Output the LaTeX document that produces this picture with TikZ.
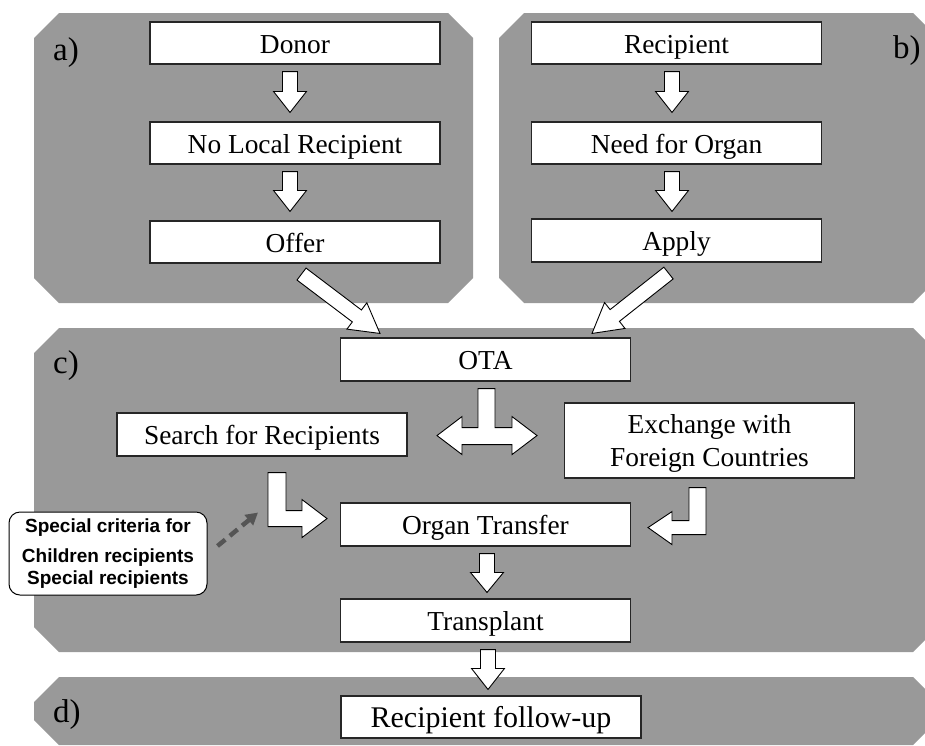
\documentclass[tikz,border=0pt]{standalone}
\usepackage{fontspec}
\setmainfont{Liberation Serif}
\newfontfamily\notesans{Liberation Sans}
\usetikzlibrary{calc,arrows.meta}

\definecolor{panelgrey}{HTML}{999999}
\definecolor{edgegrey}{HTML}{262626}
\definecolor{dashgrey}{HTML}{555555}

\tikzset{
  stage/.style={draw=edgegrey, line width=1.1pt, fill=white,
    minimum width=290pt, minimum height=42pt, inner sep=0pt,
    font=\fontsize{27.4}{33}\selectfont, text height=24pt, text depth=4pt},
  blockar/.style={draw=black, line width=0.9pt, fill=white, line join=miter},
  panel/.style={fill=panelgrey},
  tag/.style={anchor=base west, inner sep=0pt, font=\fontsize{33}{36}\selectfont},
  note/.style={draw=black, line width=1pt, fill=white, rounded corners=11pt,
    minimum width=198pt, minimum height=83pt, inner sep=0pt, align=center,
    font=\notesans\bfseries\fontsize{19}{22}\selectfont},
  hint/.style={draw=dashgrey, line width=4.5pt, dash pattern=on 10pt off 6pt,
    -{Triangle[length=12pt,width=13pt]}}
}

% chamfered panel: left, top, right, bottom
\newcommand\panelshape[4]{%
  \fill[panel] (#1+25,#2) -- (#3-25,#2) -- (#3,#2+25) -- (#3,#4-25)
    -- (#3-25,#4) -- (#1+25,#4) -- (#1,#4-25) -- (#1,#2+25) -- cycle;}

% straight block arrow from #2 to #3, head length #1
\newcommand\blockarrow[3][21]{%
  \coordinate (bahead) at ($(#3)!#1pt!(#2)$);
  \draw[blockar] ($(#2)!7.5pt!90:(#3)$) -- ($(bahead)!7.5pt!90:(#3)$)
    -- ($(bahead)!16.5pt!90:(#3)$) -- (#3) -- ($(bahead)!16.5pt!-90:(#3)$)
    -- ($(bahead)!7.5pt!-90:(#3)$) -- ($(#2)!7.5pt!-90:(#3)$) -- cycle;}

\begin{document}
\begin{tikzpicture}[x=1pt, y=-1pt]
\useasboundingbox (0,0) rectangle (925,745);
\clip (0,0) rectangle (925,745);

% background panels
\panelshape{34}{13}{473}{303}
\panelshape{499}{13}{938}{303}
\panelshape{34}{328}{938}{652}
\panelshape{34}{677}{938}{745}

% panel labels
\node[tag] (la) at (53,60) {a)};
\node[tag] (lb) at (893,58) {b)};
\node[tag] (lc) at (53,373) {c)};
\node[tag] (ld) at (53,722) {d)};

% donor side
\node[stage] (donor) at (295,43) {Donor};
\node[stage] (nolocal) at (295,143) {No Local Recipient};
\node[stage] (offer) at (295,242) {Offer};

% recipient side
\node[stage] (recip) at (676.5,43) {Recipient};
\node[stage] (need) at (676.5,143) {Need for Organ};
\node[stage, minimum height=43pt] (apply) at (676.5,240.5) {Apply};

% allocation
\node[stage, minimum height=43pt] (ota) at (485.5,359.5) {OTA};
\node[stage, minimum height=43pt] (search) at (262,434.5) {Search for Recipients};
\node[stage, minimum height=75pt, align=center, text height=57pt, text depth=6pt]
  (exch) at (709.5,440.5) {Exchange with\\Foreign Countries};
\node[stage, minimum height=43pt] (transfer) at (485.5,524.5) {Organ Transfer};
\node[stage, minimum height=43pt] (transplant) at (485.5,620.5) {Transplant};

% follow-up
\node[stage, minimum width=300pt, font=\fontsize{30}{33}\selectfont]
  (followup) at (491,717) {Recipient follow-up};

% special criteria note
\node[note] (special) at (108,553.5)
  {Special criteria for\\[8pt]Children recipients\\Special recipients};

% straight block arrows
\coordinate (a1s) at ($(donor.south)+(-5,7)$);
\coordinate (a1e) at ($(nolocal.north)+(-5,-9)$);
\coordinate (a2s) at ($(nolocal.south)+(-5,7)$);
\coordinate (a2e) at ($(offer.north)+(-5,-9)$);
\coordinate (b1s) at ($(recip.south)+(-4.5,7)$);
\coordinate (b1e) at ($(need.north)+(-4.5,-9)$);
\coordinate (b2s) at ($(need.south)+(-4.5,7)$);
\coordinate (b2e) at ($(apply.north)+(-4.5,-7)$);
\coordinate (d1s) at ($(offer.south)+(6.5,10.5)$);
\coordinate (d1e) at ($(ota.north)+(-105.5,-4)$);
\coordinate (d2s) at ($(apply.south)+(-8,10.5)$);
\coordinate (d2e) at ($(ota.north)+(106.5,-4)$);
\coordinate (t1s) at ($(transfer.south)+(1.5,7)$);
\coordinate (t1e) at ($(transplant.north)+(1.5,-6)$);
\coordinate (t2s) at ($(transplant.south)+(2.5,7)$);
\coordinate (t2e) at ($(followup.north)+(-3,-6)$);

\blockarrow{a1s}{a1e}
\blockarrow{a2s}{a2e}
\blockarrow{b1s}{b1e}
\blockarrow{b2s}{b2e}
\blockarrow[29]{d1s}{d1e}
\blockarrow[29]{d2s}{d2e}
\blockarrow[20]{t1s}{t1e}
\blockarrow[21]{t2s}{t2e}

% split arrow below OTA
\coordinate (tstem) at ($(ota.south)+(1,7)$);
\draw[blockar, shift={(tstem)}] (-8.5,0) -- (8.5,0) -- (8.5,39) -- (25.5,39)
  -- (25.5,28) -- (50.5,47) -- (25.5,66) -- (25.5,56) -- (-24.5,56)
  -- (-24.5,66) -- (-49.5,47) -- (-24.5,28) -- (-24.5,39) -- (-8.5,39) -- cycle;

% bent arrow from search to transfer
\coordinate (lstem) at ($(search.south)+(15,16)$);
\draw[blockar, shift={(lstem)}] (-9,0) -- (9,0) -- (9,38) -- (25,38) -- (25,27)
  -- (50,46) -- (25,65) -- (25,54) -- (-9,54) -- cycle;

% bent arrow from exchange to transfer
\coordinate (rstem) at ($(exch.south)+(-12,9)$);
\draw[blockar, shift={(rstem)}] (8.5,0) -- (-8.5,0) -- (-8.5,33) -- (-25.5,33)
  -- (-25.5,24) -- (-49.5,40) -- (-25.5,57) -- (-25.5,47) -- (8.5,47) -- cycle;

% dashed hint from the note
\coordinate (hs) at ($(special.east)+(10,-7.5)$);
\coordinate (he) at ($(lstem)+(-19,40)$);
\draw[hint] (hs) -- (he);

\end{tikzpicture}
\end{document}
